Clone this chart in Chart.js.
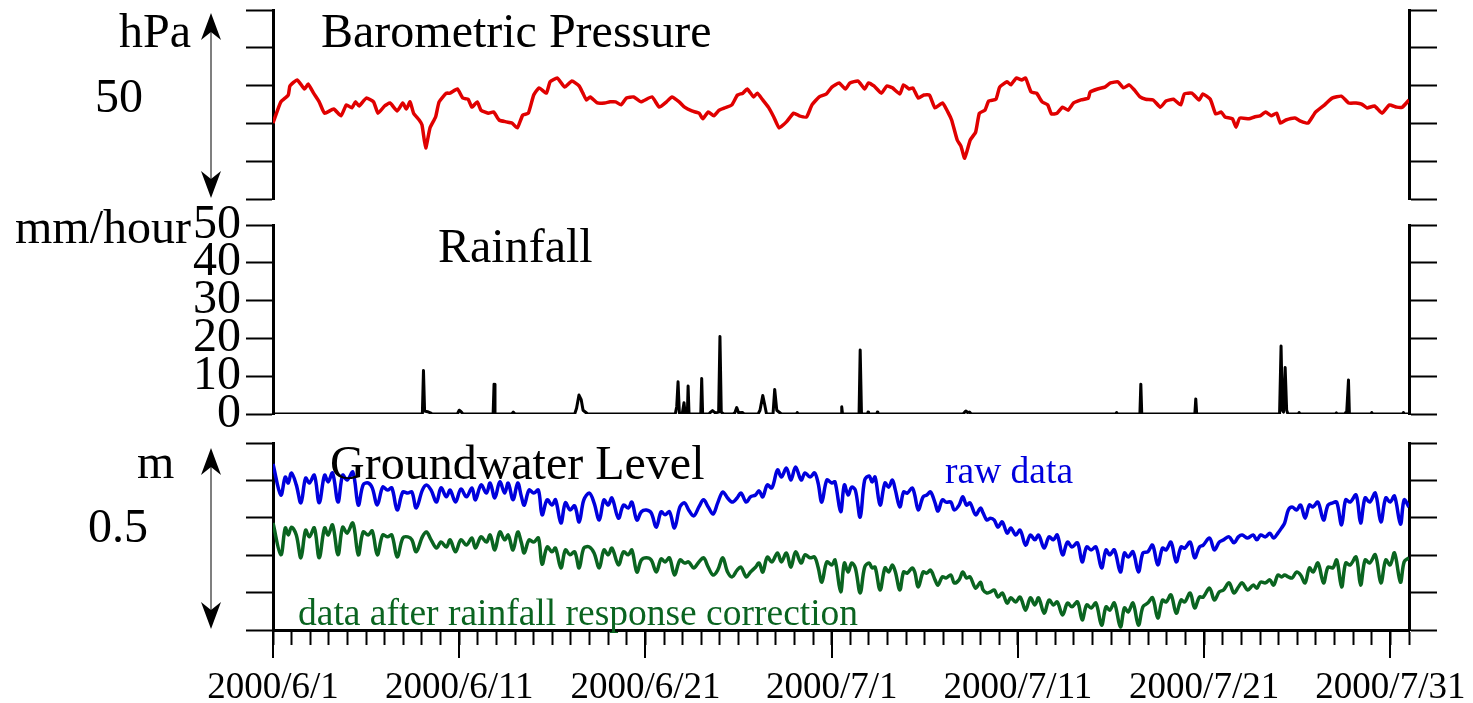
<!DOCTYPE html>
<html>
<head>
<meta charset="utf-8">
<script src="https://cdn.jsdelivr.net/npm/chart.js@4.4.0/dist/chart.umd.min.js"></script>
<style>
  html, body { margin: 0; padding: 0; background: #fff; }
  #wrap { position: relative; width: 1473px; height: 703px; }
  #wrap canvas { position: absolute; left: 0; top: 0; }
</style>
</head>
<body>
<div id="wrap">
  <canvas id="cPress" width="1473" height="703"></canvas>
  <canvas id="cRain" width="1473" height="703"></canvas>
  <canvas id="cGw" width="1473" height="703"></canvas>
</div>
<script>
// x values are days since 2000/6/1 00:00
const xTickLabels = ['2000/6/1', '2000/6/11', '2000/6/21', '2000/7/1', '2000/7/11', '2000/7/21', '2000/7/31'];

// barometric pressure (hPa)
const pressureDay = [0,0.42,0.82,0.91,1.3,1.69,1.89,2.18,2.48,2.77,
  3.26,3.65,3.94,4.23,4.43,4.62,5.01,5.4,5.64,5.99,
  6.28,6.67,6.97,7.16,7.36,7.55,7.85,8.0,8.2,8.43,
  8.73,8.92,9.31,9.51,9.9,10.19,10.48,10.68,10.97,11.17,
  11.56,11.85,12.14,12.53,12.83,13.12,13.41,13.71,14.0,14.29,
  14.68,14.88,15.27,15.66,16.05,16.44,16.64,16.83,17.03,17.42,
  17.81,18.1,18.4,18.69,18.98,19.37,19.76,20.35,20.74,21.13,
  21.42,21.81,22.1,22.49,22.88,23.08,23.37,23.67,23.96,24.25,
  24.64,24.94,25.23,25.46,25.81,26.0,26.3,26.6,26.89,27.18,
  27.57,27.96,28.26,28.65,28.94,29.33,29.72,30.01,30.4,30.74,
  30.98,31.42,31.77,31.97,32.27,32.67,32.96,33.26,33.66,33.86,
  34.16,34.36,34.65,34.95,35.25,35.55,35.95,36.24,36.44,36.74,
  36.94,37.14,37.44,37.73,37.93,38.23,38.43,38.82,39.02,39.42,
  39.62,39.91,40.21,40.41,40.71,41.0,41.3,41.6,41.8,42.1,
  42.4,42.69,42.99,43.39,43.78,43.88,44.28,44.67,44.97,45.37,
  45.67,45.97,46.26,46.56,46.86,47.26,47.65,47.95,48.35,48.74,
  48.94,49.34,49.73,49.93,50.33,50.62,50.92,51.12,51.52,51.71,
  51.91,52.41,52.7,53.0,53.3,53.6,53.89,54.09,54.39,54.88,
  55.18,55.58,55.98,56.47,56.87,57.37,57.76,58.16,58.46,58.75,
  59.15,59.55,59.95,60.34,60.64,61.0];
const pressureHpa = [1000.1,1005.7,1007.5,1009.9,1011.5,1009.1,1010.4,1008.0,1005.7,1002.7,
  1003.8,1002.0,1004.9,1004.1,1005.7,1004.6,1006.7,1005.7,1002.7,1004.6,
  1005.4,1003.3,1005.4,1003.8,1005.7,1002.7,1000.9,999.6,993.5,998.8,
  1001.7,1005.7,1008.0,1008.0,1009.1,1006.7,1006.4,1004.3,1005.7,1003.5,
  1002.7,1003.0,1000.9,1000.4,1000.1,998.8,1002.2,1002.7,1007.5,1009.4,
  1008.0,1011.0,1012.0,1009.6,1011.2,1009.9,1008.0,1006.2,1007.0,1005.4,
  1005.4,1005.7,1005.7,1004.9,1006.7,1007.0,1005.7,1007.0,1004.3,1005.7,
  1007.0,1005.7,1004.3,1003.3,1002.7,1001.2,1003.0,1002.0,1003.5,1004.1,
  1004.9,1007.5,1008.0,1009.1,1007.0,1008.0,1006.2,1004.3,1001.7,998.8,
  1000.4,1002.7,1002.0,1001.7,1004.9,1007.0,1007.8,1009.6,1010.7,1009.1,
  1010.7,1011.2,1009.1,1010.7,1009.9,1008.0,1009.9,1009.4,1007.8,1010.2,
  1009.1,1009.4,1006.7,1007.5,1007.5,1004.1,1005.4,1003.0,1000.9,995.6,
  994.0,990.8,995.6,997.7,1002.7,1003.5,1005.9,1006.4,1009.6,1011.0,
  1010.2,1012.0,1011.5,1012.0,1008.3,1008.0,1005.7,1004.9,1002.5,1002.7,
  1004.3,1003.5,1005.4,1006.2,1006.7,1008.3,1009.1,1009.6,1010.7,1011.0,
  1009.4,1010.2,1008.8,1007.0,1006.4,1006.2,1004.3,1005.9,1006.4,1004.9,
  1007.8,1008.0,1006.2,1007.8,1006.4,1002.5,1003.0,1001.7,1001.2,999.0,
  1001.4,1001.2,1001.7,1002.0,1003.0,1002.0,1002.7,1000.1,1000.9,1001.4,
  1000.6,1000.1,1003.0,1004.9,1006.7,1007.2,1005.4,1005.4,1005.1,1004.1,
  1004.6,1002.7,1004.9,1004.3,1004.3,1006.2];

// rainfall (mm/hour)
const rainDay = [0, 8.02,8.08,8.14,8.3,8.45,8.55, 9.9,10.0,10.1,10.2, 11.82,11.87,11.92,
  12.82,12.9,13.0, 16.2,16.3,16.43,16.55,16.65,16.8,16.9,
  21.6,21.68,21.75,21.82,21.98,22.07,22.13,22.25,22.29,22.34, 22.97,23.02,23.07,
  23.4,23.5,23.6,23.75,23.93,24.0,24.07,24.2, 24.7,24.8,24.9,25.0,25.2,25.3,
  26.05,26.15,26.3,26.4,26.5, 26.85,26.94,27.05,27.2,27.3, 28.1,28.15,28.2,
  30.5,30.54,30.58, 31.47,31.53,31.6, 31.92,31.95,31.98, 32.42,32.45,32.48,
  37.05,37.2,37.3,37.4,37.5, 45.25,45.3,45.35, 46.55,46.6,46.65, 49.5,49.55,49.6,
  54.05,54.13,54.2,54.26,54.35,54.43,54.5, 55.05,55.1,55.15, 57.05,57.1,57.15,
  57.55,57.6,57.65,57.75,57.8, 58.95,59.0,59.05, 60.65,60.7,60.75, 61];
const rainMm = [0, 0,11.5,0.8,0.6,0.3,0, 0,1.0,0.6,0, 0,7.9,0,
  0,0.5,0, 0,1.5,5.0,3.8,1.0,0.4,0,
  0,2.0,8.5,0.3,0.2,3.0,0.2,0,7.4,0, 0,9.4,0,
  0,0.5,0.9,0.3,0.5,20.5,0.5,0, 0,0.3,1.7,0.3,0.4,0,
  0,1.0,4.9,2.5,0, 0,6.5,1.0,0.4,0, 0,0.4,0,
  0,1.9,0, 0,16.9,0, 0,0.5,0, 0,0.5,0,
  0,0.8,0.4,0.5,0, 0,0.4,0, 0,7.9,0, 0,4.0,0,
  0,18.0,1.0,0.5,12.3,1.0,0, 0,0.4,0, 0,0.3,0,
  0,0.4,0,9.0,0, 0,0.4,0, 0,0.4,0, 0];

// groundwater level (m)
const gwDay = [0,0.42,0.66,0.82,0.99,1.25,1.5,1.75,1.95,2.22,
  2.48,2.77,2.96,3.2,3.49,3.74,3.98,4.29,4.58,4.84,
  5.11,5.33,5.6,5.89,6.15,6.38,6.67,6.97,7.24,7.46,
  7.69,8.02,8.24,8.49,8.78,9.02,9.31,9.51,9.8,10.09,
  10.39,10.68,10.87,11.17,11.46,11.66,11.91,12.18,12.44,12.63,
  12.89,13.14,13.34,13.49,13.75,14.0,14.25,14.45,14.72,14.98,
  15.17,15.46,15.7,15.95,16.2,16.44,16.69,16.99,17.24,17.52,
  17.77,18.0,18.2,18.55,18.82,19.08,19.27,19.54,19.78,20.05,
  20.31,20.58,20.84,21.05,21.29,21.56,21.85,22.1,22.32,22.59,
  22.87,23.12,23.37,23.63,23.88,24.15,24.41,24.66,24.92,25.13,
  25.41,25.64,25.91,26.1,26.3,26.54,26.79,27.09,27.3,27.57,
  27.81,28.06,28.36,28.57,28.84,29.08,29.27,29.47,29.74,30.01,
  30.18,30.48,30.68,30.88,31.07,31.27,31.53,31.77,32.01,32.17,
  32.33,32.6,32.86,33.06,33.26,33.42,33.66,33.86,34.06,34.32,
  34.46,34.65,34.91,35.11,35.31,35.55,35.71,35.94,36.14,36.4,
  36.58,36.84,37.04,37.24,37.43,37.73,37.99,38.13,38.33,38.53,
  38.73,38.93,39.16,39.42,39.62,39.88,40.12,40.41,40.67,40.91,
  41.11,41.41,41.67,41.91,42.11,42.4,42.66,42.9,43.2,43.45,
  43.69,43.93,44.19,44.49,44.73,44.93,45.18,45.5,45.72,45.92,
  46.18,46.47,46.71,46.97,47.23,47.51,47.76,47.96,48.22,48.5,
  48.76,48.96,49.25,49.49,49.75,49.95,50.29,50.55,50.81,51.04,
  51.34,51.6,51.84,52.04,52.34,52.63,52.83,53.03,53.29,53.53,
  53.73,53.96,54.16,54.32,54.52,54.72,54.96,55.18,55.42,55.65,
  55.85,56.11,56.41,56.65,56.91,57.12,57.38,57.6,57.84,58.16,
  58.4,58.64,58.89,59.19,59.49,59.75,59.99,60.22,60.54,60.74,
  61];
const gwRaw = [0.444,0.361,0.409,0.393,0.420,0.388,0.340,0.406,0.393,0.414,
  0.340,0.414,0.396,0.420,0.342,0.414,0.401,0.422,0.334,0.388,
  0.393,0.380,0.334,0.382,0.374,0.380,0.321,0.369,0.366,0.369,
  0.326,0.374,0.388,0.374,0.342,0.380,0.356,0.374,0.342,0.377,
  0.356,0.380,0.348,0.388,0.366,0.393,0.353,0.396,0.366,0.393,
  0.348,0.393,0.356,0.334,0.374,0.366,0.374,0.308,0.348,0.334,
  0.348,0.286,0.340,0.321,0.332,0.289,0.348,0.366,0.340,0.294,
  0.348,0.334,0.353,0.299,0.334,0.326,0.342,0.294,0.316,0.321,
  0.313,0.275,0.316,0.308,0.316,0.273,0.329,0.340,0.321,0.305,
  0.329,0.348,0.329,0.310,0.340,0.369,0.353,0.342,0.353,0.366,
  0.342,0.356,0.361,0.372,0.356,0.388,0.380,0.428,0.409,0.433,
  0.401,0.436,0.401,0.420,0.409,0.420,0.393,0.342,0.401,0.393,
  0.396,0.316,0.388,0.361,0.382,0.374,0.302,0.401,0.412,0.396,
  0.409,0.334,0.393,0.382,0.401,0.374,0.329,0.369,0.366,0.380,
  0.361,0.321,0.356,0.361,0.369,0.340,0.318,0.348,0.342,0.342,
  0.321,0.334,0.356,0.334,0.340,0.308,0.326,0.313,0.294,0.299,
  0.294,0.275,0.289,0.259,0.273,0.254,0.267,0.227,0.254,0.241,
  0.254,0.219,0.249,0.241,0.254,0.201,0.235,0.222,0.233,0.182,
  0.222,0.214,0.222,0.166,0.214,0.201,0.214,0.155,0.206,0.195,
  0.209,0.155,0.206,0.209,0.227,0.174,0.219,0.214,0.235,0.182,
  0.222,0.219,0.235,0.193,0.222,0.227,0.246,0.214,0.235,0.241,
  0.249,0.233,0.249,0.254,0.246,0.254,0.241,0.254,0.249,0.259,
  0.246,0.259,0.273,0.286,0.321,0.329,0.321,0.334,0.299,0.334,
  0.329,0.342,0.294,0.334,0.340,0.342,0.281,0.348,0.342,0.361,
  0.286,0.353,0.342,0.366,0.289,0.353,0.342,0.358,0.283,0.348,
  0.329];
const gwCorrected = [0.286,0.201,0.273,0.254,0.275,0.254,0.193,0.267,0.249,0.273,
  0.193,0.273,0.254,0.281,0.201,0.275,0.259,0.286,0.201,0.262,
  0.254,0.265,0.201,0.254,0.249,0.254,0.195,0.246,0.249,0.241,
  0.209,0.249,0.262,0.241,0.219,0.235,0.222,0.241,0.209,0.241,
  0.227,0.246,0.219,0.249,0.235,0.254,0.214,0.262,0.241,0.254,
  0.214,0.262,0.233,0.206,0.241,0.235,0.246,0.176,0.222,0.209,
  0.219,0.166,0.214,0.201,0.209,0.166,0.219,0.222,0.206,0.166,
  0.214,0.201,0.219,0.174,0.209,0.201,0.214,0.155,0.187,0.193,
  0.187,0.155,0.190,0.182,0.193,0.147,0.187,0.179,0.182,0.166,
  0.182,0.193,0.168,0.147,0.160,0.193,0.155,0.142,0.160,0.168,
  0.142,0.155,0.168,0.179,0.155,0.195,0.182,0.206,0.182,0.206,
  0.168,0.209,0.179,0.201,0.193,0.195,0.168,0.128,0.182,0.174,
  0.187,0.102,0.179,0.155,0.179,0.166,0.099,0.168,0.179,0.166,
  0.168,0.107,0.166,0.155,0.174,0.155,0.107,0.155,0.152,0.166,
  0.155,0.115,0.155,0.152,0.160,0.134,0.120,0.142,0.139,0.147,
  0.126,0.134,0.155,0.139,0.142,0.112,0.128,0.107,0.099,0.102,
  0.107,0.088,0.099,0.072,0.086,0.075,0.088,0.053,0.086,0.067,
  0.086,0.045,0.080,0.067,0.075,0.040,0.072,0.062,0.075,0.027,
  0.067,0.059,0.072,0.013,0.062,0.053,0.072,0.008,0.059,0.048,
  0.072,0.013,0.062,0.072,0.086,0.032,0.080,0.075,0.094,0.045,
  0.080,0.075,0.099,0.059,0.088,0.088,0.112,0.080,0.102,0.107,
  0.126,0.099,0.115,0.126,0.107,0.120,0.112,0.128,0.126,0.134,
  0.120,0.147,0.142,0.147,0.142,0.139,0.155,0.147,0.126,0.166,
  0.155,0.179,0.126,0.168,0.166,0.187,0.115,0.179,0.174,0.195,
  0.120,0.187,0.179,0.201,0.126,0.187,0.174,0.206,0.128,0.182,
  0.193];

const SERIF = '"Liberation Serif", "Times New Roman", serif';
Chart.defaults.font.family = SERIF;
Chart.defaults.color = '#000';
Chart.defaults.animation = false;

const toXY = (xs, ys) => xs.map((x, i) => ({ x: x, y: ys[i] }));

// left + right y axes with outward ticks, plot area fixed at x 273..1409
function yAxes(min, max, step, showLabels) {
  const grid = { drawOnChartArea: false, drawTicks: true, tickLength: 27, tickWidth: 2, tickColor: '#000' };
  const border = { display: true, color: '#000', width: 3 };
  return {
    y: {
      type: 'linear', position: 'left', min: min, max: max,
      ticks: { stepSize: step, display: showLabels, autoSkip: false, padding: 5, font: { size: 48 }, color: '#000' },
      grid: grid, border: border,
      afterFit: (s) => { s.width = 273; }
    },
    yR: {
      type: 'linear', position: 'right', min: min, max: max,
      ticks: { stepSize: step, display: false, autoSkip: false },
      grid: Object.assign({}, grid, { tickLength: 28 }), border: border,
      afterFit: (s) => { s.width = 1473 - 1409; }
    }
  };
}

// text labels and the vertical double arrow next to a panel
function panelDecor(id, texts, arrow) {
  return {
    id: id,
    afterDraw(chart) {
      const ctx = chart.ctx;
      ctx.save();
      texts.forEach(t => {
        ctx.font = t.size + 'px ' + SERIF;
        ctx.fillStyle = t.color || '#000';
        ctx.textAlign = t.align || 'left';
        ctx.textBaseline = 'alphabetic';
        ctx.fillText(t.text, t.x, t.y);
      });
      if (arrow) {
        const s = chart.scales.y;
        const top = s.getPixelForValue(s.max) + arrow.inset;
        const bot = s.getPixelForValue(s.min) - 1;
        const x = arrow.x;
        ctx.strokeStyle = '#555';
        ctx.lineWidth = 1.5;
        ctx.beginPath();
        ctx.moveTo(x, top + 15);
        ctx.lineTo(x, bot - 15);
        ctx.stroke();
        ctx.fillStyle = '#000';
        [[top, 1], [bot, -1]].forEach(([tip, dir]) => {
          ctx.beginPath();
          ctx.moveTo(x, tip);
          ctx.lineTo(x + 10, tip + dir * 27);
          ctx.lineTo(x, tip + dir * 19);
          ctx.lineTo(x - 10, tip + dir * 27);
          ctx.closePath();
          ctx.fill();
        });
      }
      ctx.restore();
    }
  };
}

const hiddenX = { type: 'linear', min: 0, max: 61, display: false };
const noPlugins = { legend: { display: false }, tooltip: { enabled: false } };

// --- barometric pressure
new Chart(document.getElementById('cPress'), {
  type: 'line',
  data: {
    datasets: [{
      data: toXY(pressureDay, pressureHpa),
      borderColor: '#e00000', borderWidth: 3.5, pointRadius: 0, tension: 0.15, fill: false,
      borderJoinStyle: 'round'
    }]
  },
  options: {
    responsive: false,
    layout: { padding: { top: 10, bottom: 703 - 199, left: 0, right: 0 } },
    plugins: noPlugins,
    scales: Object.assign({ x: hiddenX }, yAxes(980, 1030, 10, false))
  },
  plugins: [panelDecor('pressDecor', [
    { text: 'hPa', x: 191, y: 47, size: 48, align: 'right' },
    { text: 'Barometric Pressure', x: 321, y: 47, size: 48 },
    { text: '50', x: 95, y: 112, size: 48 }
  ], { x: 211, inset: 3 })]
});

// --- rainfall
new Chart(document.getElementById('cRain'), {
  type: 'line',
  data: {
    datasets: [{
      data: toXY(rainDay, rainMm),
      borderColor: '#000', borderWidth: 3, pointRadius: 0, tension: 0, fill: false,
      borderJoinStyle: 'round'
    }]
  },
  options: {
    responsive: false,
    layout: { padding: { top: 225, bottom: 703 - 414, left: 0, right: 0 } },
    plugins: noPlugins,
    scales: Object.assign({ x: hiddenX }, yAxes(0, 50, 10, true))
  },
  plugins: [panelDecor('rainDecor', [
    { text: 'mm/hour', x: 15, y: 243, size: 48 },
    { text: 'Rainfall', x: 438, y: 262, size: 48 }
  ], null)]
});

// --- groundwater level
new Chart(document.getElementById('cGw'), {
  type: 'line',
  data: {
    datasets: [
      {
        label: 'raw data',
        data: toXY(gwDay, gwRaw),
        borderColor: '#0000dd', borderWidth: 3.5, pointRadius: 0, tension: 0.35, fill: false,
        borderJoinStyle: 'round'
      },
      {
        label: 'data after rainfall response correction',
        data: toXY(gwDay, gwCorrected),
        borderColor: '#0a6420', borderWidth: 3.5, pointRadius: 0, tension: 0.35, fill: false,
        borderJoinStyle: 'round'
      }
    ]
  },
  options: {
    responsive: false,
    layout: { padding: { top: 443, bottom: 0, left: 0, right: 0 } },
    plugins: noPlugins,
    scales: Object.assign({
      x: {
        type: 'linear', position: 'bottom', min: 0, max: 61,
        ticks: {
          stepSize: 1, autoSkip: false, maxRotation: 0, padding: 21,
          font: { size: 37 }, color: '#000',
          callback: (v) => (v % 10 === 0 ? xTickLabels[v / 10] : '')
        },
        grid: { drawOnChartArea: false, drawTicks: true, tickLength: 15, tickWidth: 2, tickColor: '#000' },
        border: { display: true, color: '#000', width: 3 },
        afterFit: (s) => { s.height = 703 - 630; }
      }
    }, yAxes(0, 0.5, 0.1, false))
  },
  plugins: [
    panelDecor('gwDecor', [
      { text: 'm', x: 137, y: 478, size: 48 },
      { text: '0.5', x: 88, y: 542, size: 48 },
      { text: 'Groundwater Level', x: 330, y: 479, size: 48 },
      { text: 'raw data', x: 945, y: 483, size: 37.5, color: '#0000dd' },
      { text: 'data after rainfall response correction', x: 298, y: 625, size: 37.5, color: '#0a6420' }
    ], { x: 211, inset: 5 }),
    {
      id: 'majorTicks',
      afterDraw(chart) {
        const s = chart.scales.x;
        const ctx = chart.ctx;
        ctx.save();
        ctx.strokeStyle = '#000';
        ctx.lineWidth = 2;
        for (let v = 0; v <= 60; v += 10) {
          const px = Math.round(s.getPixelForValue(v));
          ctx.beginPath();
          ctx.moveTo(px, chart.chartArea.bottom);
          ctx.lineTo(px, chart.chartArea.bottom + 28);
          ctx.stroke();
        }
        ctx.restore();
      }
    }
  ]
});
</script>
</body>
</html>
